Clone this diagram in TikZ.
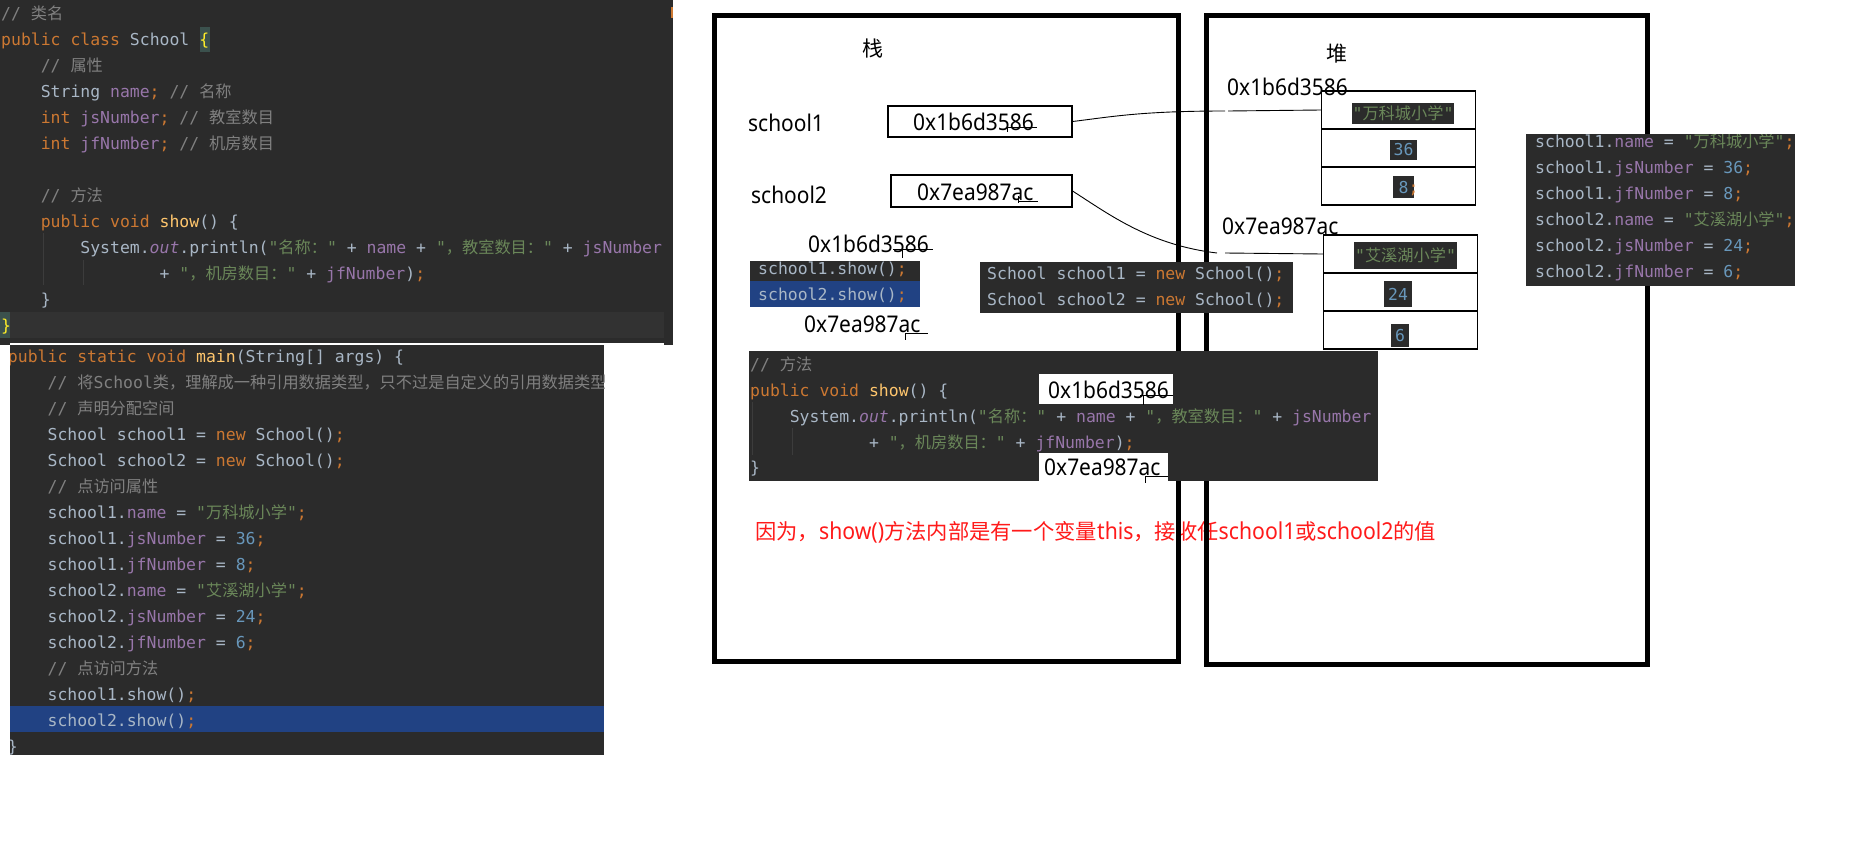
\documentclass[tikz,border=0pt]{standalone}
\usepackage{fontspec}
\setmainfont{Noto Sans}
\setmonofont{DejaVu Sans Mono}
\newfontfamily\cjk{Noto Sans CJK SC}
\newfontfamily\uifont[FakeStretch=0.91]{Noto Sans}
\definecolor{codebg}{HTML}{2B2B2B}
\definecolor{kw}{HTML}{CC7832}
\definecolor{fg}{HTML}{A9B7C6}
\definecolor{fld}{HTML}{9876AA}
\definecolor{strc}{HTML}{6A8759}
\definecolor{numc}{HTML}{6897BB}
\definecolor{cmt}{HTML}{808080}
\definecolor{mth}{HTML}{FFC66D}
\definecolor{selbg}{HTML}{214283}
\definecolor{curline}{HTML}{323232}
\definecolor{bracebg}{HTML}{3B514D}
\definecolor{bracefg}{HTML}{FFEF28}
\definecolor{guide}{HTML}{3C3C3C}
\definecolor{markc}{HTML}{CC7832}
\definecolor{notered}{HTML}{FF1A1A}
\newcommand\codefont{\ttfamily\fontsize{16.45}{20}\selectfont}
\newcommand\zh[1]{{\cjk\fontsize{16.2}{20}\selectfont #1}}
\newcommand\lat[1]{{\uifont\fontsize{23.3}{23}\selectfont #1}}
\newcommand\cK[1]{\textcolor{kw}{#1}}
\newcommand\cF[1]{\textcolor{fld}{#1}}
\newcommand\cS[1]{\textcolor{strc}{#1}}
\newcommand\cN[1]{\textcolor{numc}{#1}}
\newcommand\cC[1]{\textcolor{cmt}{#1}}
\newcommand\cM[1]{\textcolor{mth}{#1}}
\newcommand\cB[1]{\textcolor{bracefg}{#1}}
\newcounter{lnc}
\newcommand\codeline[3]{\stepcounter{lnc}\node[code] (cl\arabic{lnc}) at (#1,#2) {#3};}
\begin{document}
\begin{tikzpicture}[x=1pt,y=-1pt,
  code/.style={anchor=base west, inner sep=0pt, font=\codefont, text=fg},
  lbl/.style={anchor=base west, inner sep=0pt, font=\uifont\fontsize{23}{26}\selectfont, text=black},
  zhlbl/.style={anchor=center, inner sep=0pt, font=\cjk\fontsize{21}{21}\selectfont, text=black},
  memframe/.style={draw=black, line width=5pt, inner sep=0pt},
  addrbox/.style={draw=black, line width=1.1pt, inner sep=0pt},
  cell/.style={draw=black, line width=1.1pt, inner sep=0pt, minimum width=154pt, minimum height=38pt},
  valbox/.style={fill=codebg, inner sep=0pt, font=\codefont, text=fg},
  blk/.style={fill=codebg, inner sep=0pt},
  conn/.style={draw=black, line width=0.9pt},
  tick/.style={draw=black, line width=1pt},
  gd/.style={draw=guide, line width=1pt}]
\useasboundingbox (0,0) rectangle (1874,854);
\fill[white] (0,0) rectangle (1874,854);

% ---------- top code block ----------
\fill[codebg] (0,0) rectangle (673,345);
\fill[curline] (0,312) rectangle (664,338);
\fill[bracebg] (0,312) rectangle (9.5,338);
\fill[bracebg] (200,27) rectangle (210,52);
\fill[markc] (670.5,7) rectangle (673,18);
\draw[gd] (43,233) -- (43,285);
\draw[gd] (83,260) -- (83,285);
\codeline{1}{19}{\cC{// \zh{类名}}}
\codeline{1}{45}{\cK{public class} School \cB{\{}}
\codeline{40.6}{71}{\cC{// \zh{属性}}}
\codeline{40.6}{97}{String \cF{name}\cK{;} \cC{// \zh{名称}}}
\codeline{40.6}{123}{\cK{int} \cF{jsNumber}\cK{;} \cC{// \zh{教室数目}}}
\codeline{40.6}{149}{\cK{int} \cF{jfNumber}\cK{;} \cC{// \zh{机房数目}}}
\codeline{40.6}{201}{\cC{// \zh{方法}}}
\codeline{40.6}{227}{\cK{public void} \cM{show}() \{}
\codeline{80.2}{253}{System.\cF{\itshape out}.println(\cS{"\zh{名称：}"} + \cF{name} + \cS{"\zh{，教室数目：}"} + \cF{jsNumber}}
\codeline{159.4}{279}{+ \cS{"\zh{，机房数目：}"} + \cF{jfNumber})\cK{;}}
\codeline{40.6}{305}{\}}
\codeline{1}{331}{\cB{\}}}
\fill[white] (10,343) rectangle (664,345);

% ---------- bottom code block ----------
\fill[codebg] (10,345) rectangle (604,755);
\fill[selbg] (10,706) rectangle (604,732);
\begin{scope}
\clip (10,345) rectangle (604,755);
\codeline{7.8}{362}{\cK{public static void} \cM{main}(String[] args) \{}
\codeline{47.4}{388}{\cC{// \zh{将}School\zh{类，理解成一种引用数据类型，只不过是自定义的引用数据类型}}}
\codeline{47.4}{414}{\cC{// \zh{声明分配空间}}}
\codeline{47.4}{440}{School school1 = \cK{new} School()\cK{;}}
\codeline{47.4}{466}{School school2 = \cK{new} School()\cK{;}}
\codeline{47.4}{492}{\cC{// \zh{点访问属性}}}
\codeline{47.4}{518}{school1.\cF{name} = \cS{"\zh{万科城小学}"}\cK{;}}
\codeline{47.4}{544}{school1.\cF{jsNumber} = \cN{36}\cK{;}}
\codeline{47.4}{570}{school1.\cF{jfNumber} = \cN{8}\cK{;}}
\codeline{47.4}{596}{school2.\cF{name} = \cS{"\zh{艾溪湖小学}"}\cK{;}}
\codeline{47.4}{622}{school2.\cF{jsNumber} = \cN{24}\cK{;}}
\codeline{47.4}{648}{school2.\cF{jfNumber} = \cN{6}\cK{;}}
\codeline{47.4}{674}{\cC{// \zh{点访问方法}}}
\codeline{47.4}{700}{school1.show()\cK{;}}
\codeline{47.4}{726}{school2.show()\cK{;}}
\codeline{7.8}{752}{\}}
\end{scope}

% ---------- red note ----------
\node[anchor=base west, inner sep=0pt, text=notered, font=\cjk\fontsize{21.3}{21}\selectfont] (note) at (755,539.5) {因为，\lat{show()}方法内部是有一个变量\lat{this}，接收任\lat{school1}或\lat{school2}的值};

% ---------- frames ----------
\node[memframe, minimum width=464pt, minimum height=646pt] (stack) at (946.5,338.5) {};
\node[memframe, minimum width=441pt, minimum height=649pt] (heap) at (1427,340) {};
\node[zhlbl] (zhan) at (873,49) {栈};
\node[zhlbl] (dui) at (1337,54) {堆};

% ---------- stack variables ----------
\node[lbl] (s1) at (748,131) {school1};
\node[lbl] (s2) at (751,203) {school2};
\node[addrbox, minimum width=184pt, minimum height=31pt] (b1) at (980,121.5) {};
\node[lbl] (b1t) at (913,130) {0x1b6d3586};
\node[addrbox, minimum width=181pt, minimum height=32pt] (b2) at (981.5,191) {};
\node[lbl] (b2t) at (917,200) {0x7ea987ac};
\draw[tick] (1007,127.3) -- (1037,127.3) (1007,122) -- (1007,132);
\draw[tick] (1018,201) -- (1038,201) (1018,196) -- (1018,203);

\node[lbl] (sa1) at (808,252) {0x1b6d3586};
\draw[tick] (893,249) -- (933,249) (902,245) -- (902,258);
\node[lbl] (sa2) at (804,332) {0x7ea987ac};
\draw[tick] (905,333) -- (928,333) (905,333) -- (905,340);

% ---------- heap objects ----------
\node[lbl] (h1t) at (1227,95) {0x1b6d3586};
\node[lbl] (h2t) at (1222,234) {0x7ea987ac};
\node[cell] (o1a) at (1398.7,110) {};
\node[cell] (o1b) at (1398.7,148) {};
\node[cell] (o1c) at (1398.7,186) {};
\node[cell] (o2a) at (1400.3,254) {};
\node[cell] (o2b) at (1400.3,292) {};
\node[cell] (o2c) at (1400.3,330) {};
\node[valbox, minimum width=102pt, minimum height=21pt] (v1a) at (1403,113.5) {\cS{"\zh{万科城小学}"}};
\node[valbox, minimum width=27pt, minimum height=20pt] (v1b) at (1403.5,150) {\cN{36}};
\node[valbox, minimum width=21pt, minimum height=22pt] (v1c) at (1403.5,187) {};
\begin{scope}
\clip (1393,176) rectangle (1414,198);
\node[code] (v1ct) at (1398.5,193) {\cN{8}\cK{;}};
\end{scope}
\node[valbox, minimum width=103pt, minimum height=27pt] (v2a) at (1405.5,255.5) {\cS{"\zh{艾溪湖小学}"}};
\node[valbox, minimum width=28pt, minimum height=26pt] (v2b) at (1398,294) {\cN{24}};
\node[valbox, minimum width=18pt, minimum height=23pt] (v2c) at (1400,335.5) {\cN{6}};

% ---------- connectors ----------
\coordinate (g1a) at (1225,111);
\coordinate (g1b) at (1228,111);
\draw[conn] (b1.east) .. controls (1110,117) and (1140,111) .. (g1a);
\draw[conn] (g1b) -- (o1a.west);
\coordinate (g2a) at (1217,253);
\coordinate (g2b) at (1225,253);
\draw[conn] (b2.east) .. controls (1110,215) and (1150,245) .. (g2a);
\draw[conn] (g2b) -- (o2a.west);

% ---------- snippets over the frames ----------
\node[blk, minimum width=170pt, minimum height=20pt] (sc1) at (835,271) {};
\node[fill=selbg, inner sep=0pt, minimum width=170pt, minimum height=26pt] (sc2) at (835,294) {};
\codeline{758}{274.5}{school1.show()\cK{;}}
\codeline{758}{300}{school2.show()\cK{;}}

\node[blk, minimum width=313pt, minimum height=51pt] (newblk) at (1136.5,287.5) {};
\codeline{987}{279.5}{School school1 = \cK{new} School()\cK{;}}
\codeline{987}{305.5}{School school2 = \cK{new} School()\cK{;}}

\node[blk, minimum width=629pt, minimum height=130pt] (showblk) at (1063.5,416) {};
\draw[gd] (752,402) -- (752,455);
\draw[gd] (792,428) -- (792,455);
\codeline{750}{370}{\cC{// \zh{方法}}}
\codeline{750}{396}{\cK{public void} \cM{show}() \{}
\codeline{789.6}{422}{System.\cF{\itshape out}.println(\cS{"\zh{名称：}"} + \cF{name} + \cS{"\zh{，教室数目：}"} + \cF{jsNumber}}
\codeline{868.8}{448}{+ \cS{"\zh{，机房数目：}"} + \cF{jfNumber})\cK{;}}
\codeline{750}{473}{\}}
\node[fill=white, inner sep=0pt, minimum width=134pt, minimum height=30pt] (w1) at (1106,389) {};
\node[lbl] (w1t) at (1048,398) {0x1b6d3586};
\draw[tick] (1140,395) -- (1173,395) (1143,395) -- (1143,405);
\node[fill=white, inner sep=0pt, minimum width=129pt, minimum height=28pt] (w2) at (1103.5,467) {};
\node[lbl] (w2t) at (1044,475) {0x7ea987ac};
\draw[tick] (1145,476) -- (1168,476) (1145,476) -- (1145,483);

\node[blk, minimum width=269pt, minimum height=152pt] (rblk) at (1660.5,210) {};
\begin{scope}
\clip (1526,134) rectangle (1795,286);
\codeline{1535}{147.5}{school1.\cF{name} = \cS{"\zh{万科城小学}"}\cK{;}}
\codeline{1535}{173}{school1.\cF{jsNumber} = \cN{36}\cK{;}}
\codeline{1535}{199}{school1.\cF{jfNumber} = \cN{8}\cK{;}}
\codeline{1535}{225}{school2.\cF{name} = \cS{"\zh{艾溪湖小学}"}\cK{;}}
\codeline{1535}{251}{school2.\cF{jsNumber} = \cN{24}\cK{;}}
\codeline{1535}{277}{school2.\cF{jfNumber} = \cN{6}\cK{;}}
\end{scope}
\end{tikzpicture}
\end{document}
